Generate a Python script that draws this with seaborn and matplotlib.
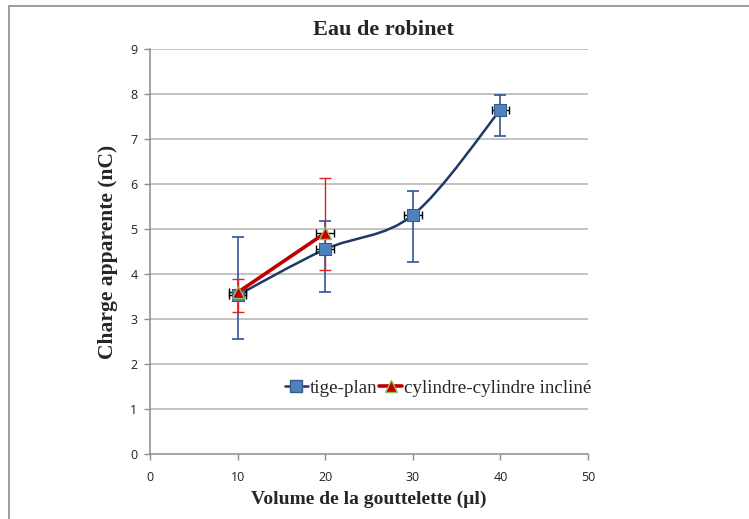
import numpy as np
import seaborn as sns
import matplotlib
matplotlib.use("Agg")
from matplotlib import pyplot as plt
from matplotlib.path import Path
from matplotlib.patches import PathPatch, Rectangle
from matplotlib.lines import Line2D

# tige-plan
tp_x = [10, 20, 30, 40]
tp_y = [3.53, 4.55, 5.31, 7.65]
tp_lo = [2.56, 3.61, 4.27, 7.07]
tp_hi = [4.82, 5.17, 5.85, 7.98]
tp_xerr = [1.0, 1.0, 1.0, 1.0]

# cylindre-cylindre incliné
cc_x = [10, 20]
cc_y = [3.59, 4.91]
cc_lo = [3.15, 4.09]
cc_hi = [3.88, 6.14]
cc_xerr = [1.0, 1.0]

labels = ["tige-plan", "cylindre-cylindre incliné"]
x_ticks = [0, 10, 20, 30, 40, 50]
y_ticks = list(range(0, 10))

serif = ["Liberation Serif", "DejaVu Serif"]
sans = ["Open Sans", "DejaVu Sans"]

sns.set_style("white")
plt.rcParams["font.family"] = sans

fig = plt.figure(figsize=(7.49, 5.19), dpi=100)
ax = fig.add_axes([150 / 749, 1 - 454 / 519, 438 / 749, 405 / 519])

# chart area border
fig.patches.append(Rectangle((9 / 749, -0.1), 1.2, 1 - 6 / 519 + 0.1,
                             transform=fig.transFigure, fill=False,
                             edgecolor="#8c8c8c", linewidth=1.2))

# gridlines
for yv in y_ticks[1:]:
    ax.axhline(yv, color="#b3b3b3", linewidth=1.1, zorder=0)

# smooth blue line (catmull-rom style bezier like Excel)
px = np.array(tp_x, float)
py = np.array(tp_y, float)
t = 1 / 6
verts = [(px[0], py[0])]
codes = [Path.MOVETO]
for i in range(len(px) - 1):
    p0 = (px[max(i - 1, 0)], py[max(i - 1, 0)])
    p1 = (px[i], py[i])
    p2 = (px[i + 1], py[i + 1])
    p3 = (px[min(i + 2, len(px) - 1)], py[min(i + 2, len(px) - 1)])
    c1 = (p1[0] + (p2[0] - p0[0]) * t, p1[1] + (p2[1] - p0[1]) * t)
    c2 = (p2[0] - (p3[0] - p1[0]) * t, p2[1] - (p3[1] - p1[1]) * t)
    verts += [c1, c2, p2]
    codes += [Path.CURVE4] * 3
ax.add_patch(PathPatch(Path(verts, codes), fill=False, edgecolor="#1f3864",
                       linewidth=1.8, zorder=3))

# error bars
tp_y_arr = np.array(tp_y)
ax.errorbar(tp_x, tp_y, yerr=[tp_y_arr - np.array(tp_lo), np.array(tp_hi) - tp_y_arr],
            fmt="none", ecolor="#2f5597", elinewidth=1.2, capsize=4, capthick=1.2, zorder=2)
cc_y_arr = np.array(cc_y)
ax.errorbar(cc_x, cc_y, yerr=[cc_y_arr - np.array(cc_lo), np.array(cc_hi) - cc_y_arr],
            fmt="none", ecolor="#e02020", elinewidth=1.0, capsize=4, capthick=1.0, zorder=2)
ax.errorbar(tp_x, tp_y, xerr=tp_xerr, fmt="none", ecolor="black",
            elinewidth=1.0, capsize=3, capthick=1.0, zorder=4)
ax.errorbar(cc_x, cc_y, xerr=cc_xerr, fmt="none", ecolor="black",
            elinewidth=1.0, capsize=3, capthick=1.0, zorder=4)

# markers and red line
sns.scatterplot(x=tp_x, y=tp_y, ax=ax, marker="s", s=70, color="#4f81bd",
                edgecolor="#385d8a", linewidth=0.8, zorder=5)
sns.lineplot(x=cc_x, y=cc_y, ax=ax, color="#c00000", linewidth=2.6,
             marker="^", markersize=9, markerfacecolor="#c00000",
             markeredgecolor="#9bbb59", markeredgewidth=1.0, zorder=6)

ax.set_xlim(0, 50)
ax.set_ylim(0, 9)
ax.set_xticks(x_ticks)
ax.set_yticks(y_ticks)
ax.tick_params(axis="both", direction="out", length=4, width=1, color="#8c8c8c",
               labelsize=9, labelcolor="#222222", bottom=True, left=True, pad=5)
ax.tick_params(axis="x", pad=8)
for s in ["top", "right"]:
    ax.spines[s].set_visible(False)
for s in ["left", "bottom"]:
    ax.spines[s].set_color("#8c8c8c")
    ax.spines[s].set_linewidth(1.1)

ax.set_title("Eau de robinet", fontfamily=serif, fontweight="bold", fontsize=16,
             pad=10, x=0.534)
ax.set_xlabel("Volume de la gouttelette (µl)", fontfamily=serif, fontweight="bold",
              fontsize=14, labelpad=5)
ax.set_ylabel("Charge apparente (nC)", fontfamily=serif, fontweight="bold",
              fontsize=15.5, labelpad=9)

handles = [
    Line2D([], [], color="#1f3864", linewidth=1.8, marker="s", markersize=8,
           markerfacecolor="#4f81bd", markeredgecolor="#385d8a"),
    Line2D([], [], color="#c00000", linewidth=2.6, marker="^", markersize=8,
           markerfacecolor="#c00000", markeredgecolor="#9bbb59"),
]
leg = ax.legend(handles, labels, loc="center", bbox_to_anchor=(0.658, 0.162), ncol=2,
                frameon=False, prop={"family": serif, "size": 13.7},
                handlelength=1.2, handletextpad=0.1, columnspacing=0.1)

fig.savefig("out.png", dpi=100)
